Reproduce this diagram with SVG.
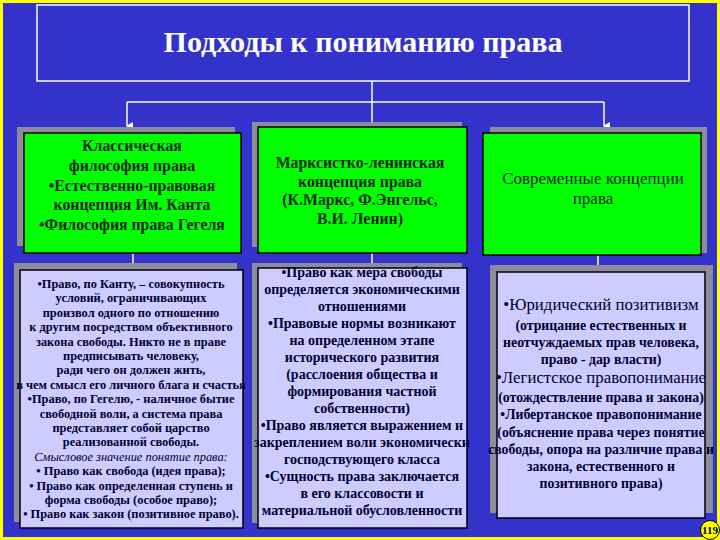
<svg xmlns="http://www.w3.org/2000/svg" width="720" height="540" viewBox="0 0 720 540">
<defs>
<marker id="arr" markerWidth="8" markerHeight="8" refX="4" refY="7" orient="auto" markerUnits="userSpaceOnUse">
<path d="M0,1 L8,1 L4,8 Z" fill="#FFFFFF"/>
</marker>
<style>
.bg{fill:#3333CC}
.shadow{fill:#8C8C9C}
.green{fill:#00FF00;stroke:#000000;stroke-width:1.5}
.lav{fill:#CCCCFF;stroke:#000000;stroke-width:1.5}
.gt{font-family:'Liberation Serif','DejaVu Serif',serif;font-weight:bold;fill:#0A2A0A;text-anchor:middle}
.bt{font-family:'Liberation Serif','DejaVu Serif',serif;font-weight:bold;fill:#000033;text-anchor:middle}
.conn{stroke:#FFFFFF;stroke-width:1.5;fill:none}
</style>
</defs>
<rect class="bg" x="0" y="0" width="720" height="540"/>
<rect x="1.5" y="1.5" width="717" height="537" fill="none" stroke="#FFFF00" stroke-width="3"/>

<g id="title">
<rect x="37" y="5" width="652" height="76" fill="none" stroke="#FFFFFF" stroke-width="1.5"/>
<text x="363" y="52" font-family="'Liberation Serif','DejaVu Serif',serif" font-weight="bold" font-size="30" fill="#FFFFFF" text-anchor="middle">Подходы к пониманию права</text>
</g>

<g id="connectors">
<line class="conn" x1="372" y1="81" x2="372" y2="102"/>
<line class="conn" x1="127" y1="102" x2="604" y2="102"/>
<line class="conn" x1="127" y1="102" x2="127" y2="126" marker-end="url(#arr)"/>
<line class="conn" x1="372" y1="102" x2="372" y2="126" marker-end="url(#arr)"/>
<line class="conn" x1="604" y1="102" x2="604" y2="126" marker-end="url(#arr)"/>
<line class="conn" x1="133" y1="253" x2="133" y2="263"/>
<line class="conn" x1="372" y1="253" x2="372" y2="263"/>
<line class="conn" x1="598" y1="255" x2="598" y2="265"/>
</g>

<g id="classic">
<rect class="shadow" x="17" y="127" width="218" height="119"/>
<rect class="green" x="24" y="133" width="217" height="120"/>
<text class="gt" font-size="15.8"><tspan x="132" y="151">Классическая</tspan><tspan x="132" y="171">философия права</tspan><tspan x="132" y="191">•Естественно-правовая</tspan><tspan x="132" y="210">концепция Им. Канта</tspan><tspan x="132" y="230">•Философия права Гегеля</tspan></text>
</g>

<g id="marxist">
<rect class="shadow" x="252" y="122" width="210" height="125"/>
<rect class="green" x="258" y="127" width="209" height="126"/>
<text class="gt" font-size="15.8"><tspan x="360" y="168">Марксистко-ленинская</tspan><tspan x="360" y="187">концепция права</tspan><tspan x="360" y="205">(К.Маркс, Ф.Энгельс,</tspan><tspan x="360" y="224">В.И. Ленин)</tspan></text>
</g>

<g id="modern">
<rect class="shadow" x="490" y="127" width="217" height="126"/>
<rect class="green" x="483" y="133" width="218" height="122"/>
<text class="gt" font-size="17" style="font-weight:normal"><tspan x="593" y="184">Современные концепции</tspan><tspan x="593" y="204">права</tspan></text>
</g>

<g id="classic-detail">
<rect class="shadow" x="14" y="263" width="223" height="259"/>
<rect class="lav" x="20" y="270" width="223" height="258"/>
<text class="bt" font-size="12.4"><tspan x="131" y="288">•Право, по Канту, – совокупность</tspan><tspan x="131" y="302.4">условий, ограничивающих</tspan><tspan x="131" y="316.8">произвол одного по отношению</tspan><tspan x="131" y="331.2">к другим посредством объективного</tspan><tspan x="131" y="345.6">закона свободы. Никто не в праве</tspan><tspan x="131" y="360">предписывать человеку,</tspan><tspan x="131" y="374.4">ради чего он должен жить,</tspan><tspan x="131" y="388.8">в чем смысл его личного блага и счастья</tspan><tspan x="131" y="403.2">•Право, по Гегелю, - наличное бытие</tspan><tspan x="131" y="417.6">свободной воли, а система права</tspan><tspan x="131" y="432">представляет собой царство</tspan><tspan x="131" y="446.4">реализованной свободы.</tspan><tspan x="131" y="460.8" font-style="italic" style="font-weight:normal">Смысловое значение понятие права:</tspan><tspan x="131" y="475.2">• Право как свобода (идея права);</tspan><tspan x="131" y="489.6">• Право как определенная ступень и</tspan><tspan x="131" y="504">форма свободы (особое право);</tspan><tspan x="131" y="518.4">• Право как закон (позитивное право).</tspan></text>
</g>

<g id="marxist-detail">
<rect class="shadow" x="252" y="263" width="210" height="260"/>
<rect class="lav" x="258" y="268" width="209" height="260"/>
<text class="bt" font-size="14"><tspan x="362" y="277">•Право как мера свободы</tspan><tspan x="362" y="294">определяется экономическими</tspan><tspan x="362" y="311">отношениями</tspan><tspan x="362" y="328">•Правовые нормы возникают</tspan><tspan x="362" y="345">на определенном этапе</tspan><tspan x="362" y="362">исторического развития</tspan><tspan x="362" y="379">(расслоения общества и</tspan><tspan x="362" y="396">формирования частной</tspan><tspan x="362" y="413">собственности)</tspan><tspan x="362" y="430">•Право является выражением и</tspan><tspan x="362" y="447">закреплением воли экономически</tspan><tspan x="362" y="464">господствующего класса</tspan><tspan x="362" y="481">•Сущность права заключается</tspan><tspan x="362" y="498">в его классовости и</tspan><tspan x="362" y="515">материальной обусловленности</tspan></text>
</g>

<g id="modern-detail">
<rect class="shadow" x="490" y="265" width="223" height="248"/>
<rect class="lav" x="497" y="272" width="208" height="246"/>
<text class="bt"><tspan x="601" y="310" font-size="16.8" style="font-weight:normal">•Юридический позитивизм</tspan><tspan x="601" y="330" font-size="13.8">(отрицание естественных и</tspan><tspan x="601" y="347" font-size="13.8">неотчуждаемых прав человека,</tspan><tspan x="601" y="364" font-size="13.8">право - дар власти)</tspan><tspan x="601" y="383" font-size="16.8" style="font-weight:normal">•Легистское правопонимание</tspan><tspan x="601" y="402" font-size="13.8">(отождествление права и закона)</tspan><tspan x="601" y="419" font-size="13.8">•Либертанское правопонимание</tspan><tspan x="601" y="437" font-size="13.8">(объяснение права через понятие</tspan><tspan x="601" y="454" font-size="13.8">свободы, опора на различие права и</tspan><tspan x="601" y="471" font-size="13.8">закона, естественного и</tspan><tspan x="601" y="488" font-size="13.8">позитивного права)</tspan></text>
</g>

<g id="page">
<circle cx="710" cy="530" r="9.5" fill="#FFFF00" stroke="#000000" stroke-width="1"/>
<text x="710" y="534" font-family="'Liberation Serif','DejaVu Serif',serif" font-weight="bold" font-size="11" fill="#000000" text-anchor="middle">119</text>
</g>
</svg>
